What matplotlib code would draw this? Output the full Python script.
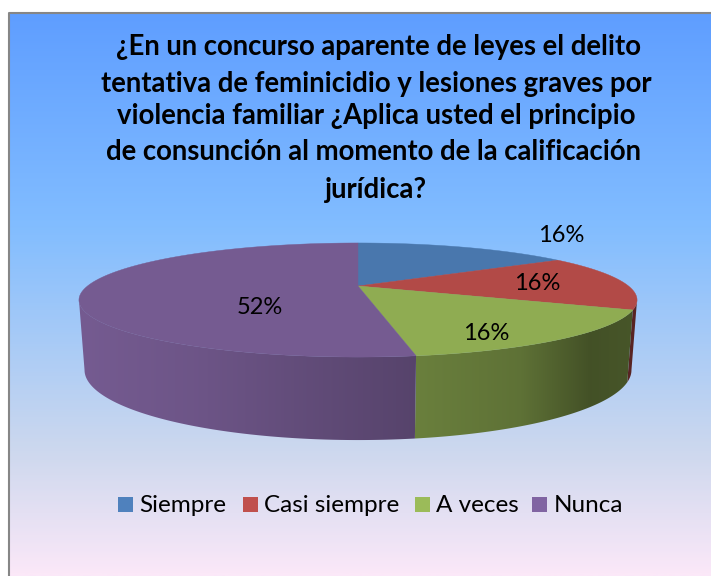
import numpy as np
import matplotlib
matplotlib.use('Agg')
import matplotlib.pyplot as plt
from matplotlib.colors import to_rgb, LinearSegmentedColormap
from matplotlib.patches import Rectangle, Polygon

# data
categories = ['Siempre', 'Casi siempre', 'A veces', 'Nunca']
values = [15.8, 15.8, 15.8, 52.6]   # slice shares as measured on the picture
pct_labels = ['16%', '16%', '16%', '52%']
title_lines = ['¿En un concurso aparente de leyes el delito',
               'tentativa de feminicidio y lesiones graves por',
               'violencia familiar ¿Aplica usted el principio',
               'de consunción al momento de la calificación',
               'jurídica?']

# styles
top_colors = ['#4977ad', '#b24a47', '#8fac52', '#755b91']
legend_colors = ['#4f81bd', '#c0504d', '#9bbb59', '#8064a2']
title_x = [379, 376.5, 376, 374, 376]
title_y = [47, 84, 116, 152, 190]
label_pos = [(561, 236), (537, 284), (486, 333), (260, 307)]
legend_sq = [118, 243, 414.5, 532]
legend_tx = [139, 264.5, 436, 554]

plt.rcParams['font.family'] = ['Lato', 'DejaVu Sans']

fig = plt.figure(figsize=(7.11, 5.76), dpi=100, facecolor='white')
ax = fig.add_axes([0, 0, 1, 1])
ax.axis('off')

# background gradient and frame
bg = LinearSegmentedColormap.from_list('bg', [(0, '#5f9eff'), (0.38, '#82bdff'),
                                              (0.78, '#cdd8ee'), (1, '#fbe8f8')])
ax.imshow(np.linspace(0, 1, 300).reshape(-1, 1), cmap=bg, aspect='auto',
          extent=(9, 711, 576, 13), zorder=0)
ax.plot([9, 9, 711], [576, 13, 13], color='#868686', lw=1.5, zorder=1)

# pie with perspective
cx, cy = 358, 286
A, B, k = 270.5, 53.6, 0.2456
depth, sx, sy = 66.8, 0.98, 1.228


def top_xy(t):
    u, v = np.sin(np.radians(t)), np.cos(np.radians(t))
    w = 1 + k * v
    return cx + A * u / w, cy - B * v / w


def bottom_xy(t):
    u, v = np.sin(np.radians(t)), np.cos(np.radians(t))
    w = 1 + k * v
    return cx + sx * A * u / w, cy + depth - sy * B * v / w


edges = np.concatenate([[0], np.cumsum(values) * 360.0 / np.sum(values)])

# side wall, only the front part shows
vis_start = np.degrees(np.arccos(-k))
vis_end = 360 - vis_start
shade_x = [80, 200, 300, 417, 520, 590, 635]
shade_f = [1.0, 0.93, 0.84, 0.74, 0.66, 0.47, 0.5]
grad_x = np.arange(70, 650)
shade = np.interp(grad_x, shade_x, shade_f)

for i in range(len(values)):
    t0, t1 = max(edges[i], vis_start), min(edges[i + 1], vis_end)
    if t1 <= t0:
        continue
    ts = np.linspace(t0, t1, 200)
    xt, yt = top_xy(ts)
    xb, yb = bottom_xy(ts[::-1])
    wall = Polygon(np.column_stack([np.r_[xt, xb], np.r_[yt, yb]]), closed=True,
                   facecolor='none', edgecolor='none', transform=ax.transData)
    ax.add_patch(wall)
    img = shade[None, :, None] * np.array(to_rgb(top_colors[i]))
    im = ax.imshow(img, aspect='auto', extent=(70, 650, 450, 230), zorder=2,
                   interpolation='bilinear')
    im.set_clip_path(wall)

# top of the pie
for i in range(len(values)):
    ts = np.linspace(edges[i], edges[i + 1], 200)
    xs, ys = top_xy(ts)
    ax.fill(np.r_[cx, xs], np.r_[cy, ys], color=top_colors[i], lw=0.3, zorder=3)

for (x, y), s in zip(label_pos, pct_labels):
    ax.text(x, y, s, fontsize=17, ha='center', va='center', color='black', zorder=5)

# title
for x, y, s in zip(title_x, title_y, title_lines):
    ax.text(x, y, s, fontsize=19.8, fontweight='bold', ha='center', va='center',
            color='black', zorder=5)

# legend
for x, tx, c, s in zip(legend_sq, legend_tx, legend_colors, categories):
    ax.add_patch(Rectangle((x, 497), 15, 15, facecolor=c, edgecolor='none', zorder=5))
    ax.text(tx, 505, s, fontsize=17.5, ha='left', va='center', color='black', zorder=5)

ax.set_xlim(0, 711)
ax.set_ylim(576, 0)

fig.savefig('out.png', dpi=100)
